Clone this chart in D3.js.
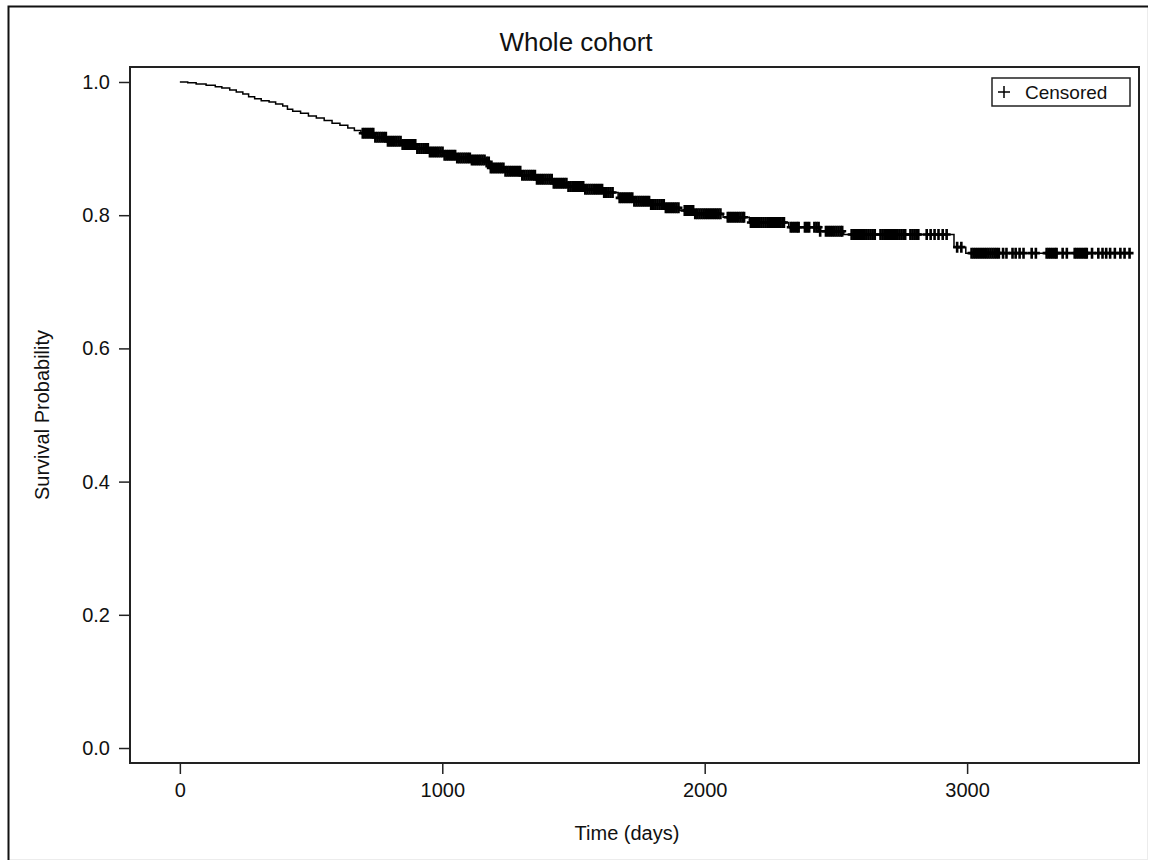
<!DOCTYPE html>
<html>
<head>
<meta charset="utf-8" />
<script src="https://d3js.org/d3.v7.min.js"></script>
<style>
    body { margin: 0; background: #fff; }
    text { font-family: "Liberation Sans", Arial, sans-serif; fill: #111; }
    .axis text { font-size: 20px; }
    .axis line { stroke: #222; stroke-width: 1.5px; }
    .axis .domain { display: none; }
</style>
</head>
<body>
<svg id="chart" width="1151" height="865"></svg>
<script>
// Kaplan-Meier steps (time in days, survival probability after the step)
var stepTimes = [0, 30, 62, 100, 135, 160, 190, 215, 240, 262, 285, 310, 340, 365, 392, 410,
    430, 460, 490, 520, 550, 580, 610, 640, 665, 690,
    742, 790, 845, 900, 952, 1005, 1055, 1110, 1165, 1185, 1240, 1300, 1360, 1420, 1480,
    1545, 1610, 1670, 1730, 1790, 1850, 1905, 1960, 2070, 2170, 2320, 2440, 2530, 2950, 2995];
var stepSurv = [1.000, 0.999, 0.997, 0.995, 0.993, 0.991, 0.988, 0.985, 0.982, 0.978, 0.975,
    0.972, 0.970, 0.967, 0.964, 0.959, 0.956, 0.953, 0.949, 0.946, 0.942, 0.938, 0.935, 0.931,
    0.927, 0.923,
    0.917, 0.911, 0.906, 0.900, 0.895, 0.890, 0.886, 0.883,
    0.880, 0.871, 0.866, 0.860, 0.854, 0.848, 0.843, 0.839, 0.834, 0.826, 0.821, 0.816, 0.811,
    0.807, 0.802, 0.797, 0.789, 0.782, 0.776, 0.771, 0.752, 0.743];

// censored observation times (days)
var censorTimes = [697, 705, 713, 721, 729, 737, 745, 753, 761, 769, 777, 785, 793, 801, 809,
    817, 825, 833, 841, 849, 857, 865, 873, 881, 889, 897, 905, 913, 921, 929, 937, 945, 953,
    961, 969, 977, 985, 993, 1001, 1009, 1017, 1025, 1033, 1041, 1049, 1057, 1065, 1073, 1081,
    1089, 1097, 1105, 1113, 1121, 1129, 1137, 1145, 1153, 1161, 1169, 1177, 1185, 1193, 1201,
    1209, 1217, 1225, 1233, 1241, 1249, 1257, 1265, 1273, 1281, 1289, 1297, 1305, 1313, 1321,
    1329, 1337, 1345, 1353, 1361, 1369, 1377, 1385, 1393, 1401, 1409, 1417, 1425, 1433, 1441,
    1449, 1457, 1465, 1473, 1481, 1489, 1497, 1505, 1513, 1521, 1529, 1537, 1545, 1553, 1561,
    1569, 1577, 1585, 1593, 1601, 1609, 1617, 1625, 1633, 1641, 1649, 1676, 1684, 1692, 1700,
    1708, 1716, 1724, 1732, 1740, 1748, 1756, 1764, 1772, 1780, 1788, 1796, 1804, 1812, 1820,
    1828, 1836, 1844, 1852, 1860, 1868, 1876, 1884, 1892, 1900, 1924, 1932, 1940, 1948, 1956,
    1964, 1972, 1980, 1988, 1996, 2004, 2012, 2020, 2028, 2036, 2044, 2052, 2060, 2088, 2096,
    2104, 2112, 2120, 2128, 2136, 2144, 2150, 2176, 2184, 2192, 2200, 2208, 2216, 2224, 2232,
    2240, 2248, 2256, 2264, 2272, 2280, 2288, 2296, 2302, 2328, 2336, 2344, 2352, 2358, 2382,
    2390, 2398, 2418, 2426, 2434, 2440, 2462, 2470, 2478, 2486, 2494, 2502, 2510, 2518, 2524,
    2560, 2568, 2576, 2584, 2592, 2600, 2608, 2616, 2624, 2632, 2640, 2648, 2670, 2678, 2686,
    2694, 2702, 2710, 2718, 2726, 2734, 2742, 2750, 2758, 2764, 2784, 2792, 2800, 2808, 2814,
    2846, 2861, 2876, 2891, 2907, 2922, 2962, 2978,
    3017, 3025, 3033, 3041, 3049, 3057, 3065, 3073, 3081, 3089, 3097, 3105, 3113, 3121,
    3137, 3150, 3173, 3185, 3200, 3215, 3246, 3262, 3303, 3311, 3319, 3327, 3335, 3341,
    3364, 3380, 3410, 3418, 3426, 3434, 3442, 3450, 3456, 3476, 3500, 3516, 3530, 3545,
    3563, 3584, 3600, 3619];

var xTicks = [0, 1000, 2000, 3000];
var yTicks = [0.0, 0.2, 0.4, 0.6, 0.8, 1.0];

var title = "Whole cohort";
var xLabel = "Time (days)";
var yLabel = "Survival Probability";

var svg = d3.select("#chart");

var plotL = 130, plotR = 1139, plotT = 67, plotB = 763;

var x = d3.scaleLinear().domain([-190, 3655]).range([plotL, plotR]);
var y = d3.scaleLinear().domain([-0.0225, 1.0225]).range([plotB, plotT]);

// outer frame of the picture
svg.append("rect")
    .attr("x", 8.5).attr("y", 6.5)
    .attr("width", 1139).attr("height", 853)
    .attr("fill", "none").attr("stroke", "#ececec");
svg.append("path")
    .attr("d", "M8.5,860V6.5H1148")
    .attr("fill", "none").attr("stroke", "#111").attr("stroke-width", 2);

// axes
svg.append("g")
    .attr("class", "axis")
    .attr("transform", "translate(" + plotL + ",0)")
    .call(d3.axisLeft(y).tickValues(yTicks).tickFormat(d3.format(".1f"))
        .tickSize(11).tickPadding(9));

svg.append("g")
    .attr("class", "axis")
    .attr("transform", "translate(0," + plotB + ")")
    .call(d3.axisBottom(x).tickValues(xTicks).tickFormat(d3.format("d"))
        .tickSize(11).tickPadding(9));

// plot frame
svg.append("rect")
    .attr("x", plotL).attr("y", plotT)
    .attr("width", plotR - plotL).attr("height", plotB - plotT)
    .attr("fill", "none").attr("stroke", "#222").attr("stroke-width", 2);

// survival at time t
function survAt(t) {
    var i = d3.bisectRight(stepTimes, t) - 1;
    return stepSurv[Math.max(i, 0)];
}

var pts = stepTimes.map(function(t, i) { return [t, stepSurv[i]]; });
var lastT = d3.max(censorTimes);
pts.push([lastT, survAt(lastT)]);

var line = d3.line()
    .x(function(d) { return x(d[0]); })
    .y(function(d) { return y(d[1]); })
    .curve(d3.curveStepAfter);

svg.append("path")
    .datum(pts)
    .attr("d", line)
    .attr("fill", "none")
    .attr("stroke", "#000")
    .attr("stroke-width", 1.5);

// censor marks
var hw = 4, hh = 5.5;
svg.append("g")
    .selectAll("path")
    .data(censorTimes)
    .enter().append("path")
    .attr("d", function(t) {
        var cx = x(t), cy = y(survAt(t));
        return "M" + (cx - hw) + "," + cy + "H" + (cx + hw) +
               "M" + cx + "," + (cy - hh) + "V" + (cy + hh);
    })
    .attr("stroke", "#000")
    .attr("stroke-width", 2.6)
    .attr("fill", "none");

// title and axis labels
svg.append("text")
    .attr("x", 576).attr("y", 51)
    .attr("text-anchor", "middle")
    .style("font-size", "26px")
    .text(title);

svg.append("text")
    .attr("x", 627).attr("y", 840)
    .attr("text-anchor", "middle")
    .style("font-size", "20px")
    .text(xLabel);

svg.append("text")
    .attr("transform", "translate(49,415) rotate(-90)")
    .attr("text-anchor", "middle")
    .style("font-size", "20px")
    .text(yLabel);

// legend
var lg = svg.append("g").attr("transform", "translate(992,78)");
lg.append("rect")
    .attr("width", 138).attr("height", 28)
    .attr("fill", "#fff").attr("stroke", "#222").attr("stroke-width", 1.5);
lg.append("path")
    .attr("d", "M6,14H18M12,8V20")
    .attr("stroke", "#000").attr("stroke-width", 1.5);
lg.append("text")
    .attr("x", 33).attr("y", 21)
    .style("font-size", "19px")
    .text("Censored");
</script>
</body>
</html>
